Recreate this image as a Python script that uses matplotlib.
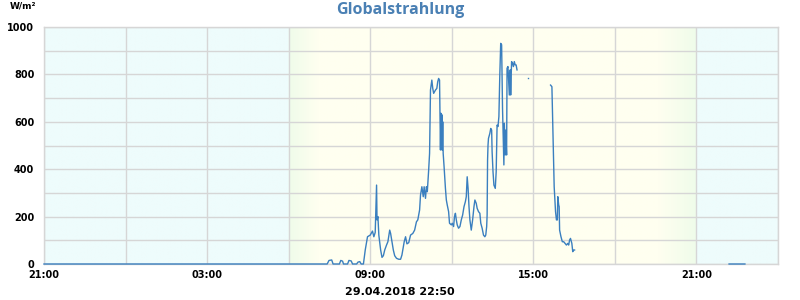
import matplotlib
matplotlib.use("Agg")
import matplotlib.pyplot as plt
import matplotlib.dates as mdates
import matplotlib.colors as mcolors
import numpy as np
import pandas as pd

# ---------------- data ----------------
title = "Globalstrahlung"
unit = "W/m²"
stamp = "29.04.2018 22:50"
x_start = "2018-04-28 21:00"
x_end = "2018-04-30 00:00"
day = "2018-04-29"

evening_times = ["2018-04-28 21:00"]
evening_values = [0]

day_times = [
    "07:25", "07:29", "07:35", "07:38", "07:52", "07:55", "07:59", "08:01",
    "08:10", "08:13", "08:18", "08:21", "08:30", "08:33", "08:37", "08:40",
    "08:45", "08:49", "08:54", "09:00", "09:05", "09:08", "09:11", "09:14",
    "09:15", "09:17", "09:19", "09:23", "09:26", "09:29", "09:32", "09:36",
    "09:39", "09:43", "09:45", "09:48", "09:51", "09:54", "09:58", "10:03",
    "10:07", "10:10", "10:15", "10:18", "10:21", "10:25", "10:29", "10:34",
    "10:38", "10:42", "10:45", "10:49", "10:51", "10:54", "10:57", "10:59",
    "11:02", "11:04", "11:06", "11:09", "11:11", "11:13", "11:16", "11:18",
    "11:20", "11:22", "11:24", "11:27", "11:29", "11:31", "11:33", "11:35",
    "11:36", "11:37", "11:38", "11:39", "11:40", "11:41", "11:43", "11:46",
    "11:48", "11:50", "11:53", "11:55", "11:59", "12:01", "12:04", "12:06",
    "12:08", "12:10", "12:12", "12:15", "12:18", "12:21", "12:24", "12:27",
    "12:30", "12:32", "12:34", "12:36", "12:38", "12:40", "12:43", "12:46",
    "12:49", "12:51", "12:54", "12:56", "12:59", "13:02", "13:04", "13:07",
    "13:10", "13:13", "13:15", "13:17", "13:18", "13:19", "13:20", "13:21",
    "13:24", "13:26", "13:28", "13:29", "13:31", "13:33", "13:36", "13:38",
    "13:40", "13:42", "13:44", "13:46", "13:48", "13:50", "13:52", "13:53",
    "13:55", "13:56", "13:58", "13:59", "14:01", "14:02", "14:04", "14:06",
    "14:07", "14:09", "14:10", "14:12", "14:14", "14:16", "14:18", "14:20",
    "14:22", "14:24", "14:30", "14:48", "15:00", "15:38", "15:41", "15:42",
    "15:44", "15:46", "15:49", "15:51", "15:53", "15:54", "15:56", "15:57",
    "15:58", "16:01", "16:04", "16:07", "16:10", "16:13", "16:16", "16:18",
    "16:20", "16:22", "16:25", "16:27", "16:29", "16:31", "16:35",
    "22:12", "22:47",
]
day_values = [
    0, 15, 17, 0, 0, 15, 12, 0,
    0, 15, 13, 0, 0, 8, 10, 0,
    0, 59, 115, 122, 139, 115, 133, 333,
    186, 200, 122, 59, 28, 35, 59, 80,
    94, 143, 129, 94, 59, 35, 24, 20,
    20, 38, 94, 115, 85, 90, 122, 129,
    143, 178, 186, 228, 291, 326, 284, 326,
    277, 326, 305, 397, 467, 734, 776, 741,
    720, 727, 734, 741, 769, 783, 776, 481,
    636, 490, 630, 480, 600, 467, 411, 319,
    270, 249, 221, 172, 165, 172, 158, 200,
    214, 186, 165, 151, 158, 186, 207, 242,
    263, 284, 368, 319, 242, 186, 143, 186,
    242, 270, 256, 235, 221, 214, 172, 151,
    122, 115, 122, 158, 207, 439, 502, 530,
    551, 572, 565, 474, 389, 333, 319, 389,
    586, 580, 622, 797, 931, 925, 657, 572,
    418, 594, 460, 565, 460, 826, 833, 755,
    713, 819, 713, 854, 847, 833, 854, 840,
    840, 819, None, 783, None, 755, 748, 664,
    495, 326, 221, 186, 186, 284, 249, 242,
    143, 115, 94, 94, 87, 80, 87, 80,
    101, 108, 87, 52, 59, 59, None,
    0, 0,
]

sunrise, day_full, dusk_start, sunset = 6.0, 7.1, 19.6, 21.0

# ---------------- build ----------------
times = pd.to_datetime(evening_times + [f"{day} {t}" for t in day_times])
values = np.array(evening_values + [np.nan if v is None else v for v in day_values], dtype=float)
tnum = mdates.date2num(times)

fig = plt.figure(figsize=(8, 3), dpi=100)
ax = fig.add_axes([44 / 800, 1 - 264 / 300, 734 / 800, 237 / 300])

x0 = mdates.date2num(pd.Timestamp(x_start))
x1 = mdates.date2num(pd.Timestamp(x_end))

# background day/night gradient
night = np.array(mcolors.to_rgb("#eefcfc"))
twi = np.array(mcolors.to_rgb("#effcea"))
daycol = np.array(mcolors.to_rgb("#fffff0"))
xs = np.linspace(x0, x1, 2000)
hours = (xs * 24) % 24
cols = np.zeros((1, len(xs), 3))
for i, h in enumerate(hours):
    if h < sunrise or h >= sunset:
        c = night
    elif h < day_full:
        f = (h - sunrise) / (day_full - sunrise)
        c = twi * (1 - f) + daycol * f
    elif h >= dusk_start:
        f = (h - dusk_start) / (sunset - dusk_start)
        c = daycol * (1 - f) + twi * f
    else:
        c = daycol
    cols[0, i] = c
ax.imshow(cols, extent=[x0, x1, 0, 1000], aspect="auto", zorder=0, interpolation="bilinear")

line_color = "#3a7fbf"
ax.plot(tnum, values, color=line_color, lw=1.0, zorder=4, clip_on=False)
# isolated points
valid = ~np.isnan(values)
prev_ok = np.r_[False, valid[:-1]]
next_ok = np.r_[valid[1:], False]
iso = valid & ~prev_ok & ~next_ok
ax.plot(tnum[iso], values[iso], "s", color=line_color, ms=1.0, mew=0, zorder=4)

ax.set_xlim(x0, x1)
ax.set_ylim(0, 1000)
ax.xaxis.set_major_locator(mdates.HourLocator(byhour=[3, 9, 15, 21]))
ax.xaxis.set_minor_locator(mdates.HourLocator(byhour=[0, 6, 12, 18]))
ax.xaxis.set_major_formatter(mdates.DateFormatter("%H:%M"))
ax.set_yticks(np.arange(0, 1001, 200))
ax.set_yticks(np.arange(100, 1000, 200), minor=True)
ax.grid(True, which="both", color="#d6d6d6", lw=1.0, zorder=1)
for gl in ax.get_xgridlines() + ax.get_ygridlines():
    gl.set_zorder(1)
ax.tick_params(which="both", length=0)
ax.tick_params(axis="y", pad=7)
ax.tick_params(axis="x", pad=4)
for lab in ax.get_xticklabels() + ax.get_yticklabels():
    lab.set_fontsize(7)
    lab.set_fontweight("bold")
for s in ax.spines.values():
    s.set_color("#d6d6d6")
    s.set_linewidth(1.0)
    s.set_zorder(2)

fig.text(0.5, 1 - 10 / 300, title, ha="center", va="center", fontsize=11.5,
         fontweight="bold", color="#4a80b4", family="Open Sans")
fig.text(10 / 800, 1 - 6 / 300, unit, ha="left", va="center", fontsize=6.5, fontweight="bold")
fig.text(0.5, 1 - 292 / 300, stamp, ha="center", va="center", fontsize=8, fontweight="bold")

fig.savefig("out.png", dpi=100)
